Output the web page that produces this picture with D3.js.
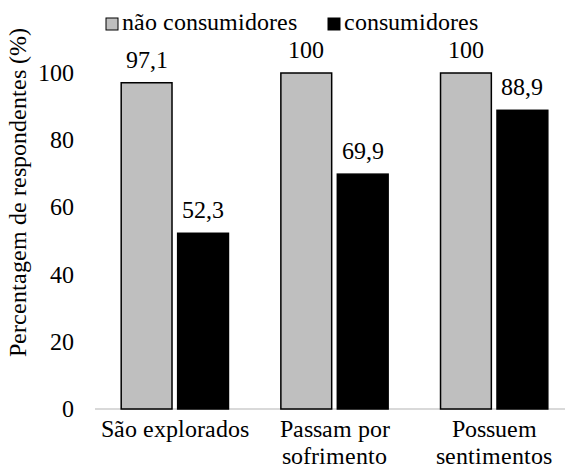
<!DOCTYPE html>
<html>
<head>
<meta charset="utf-8">
<script src="https://cdn.jsdelivr.net/npm/d3@7"></script>
<style>
  @font-face {
    font-family: "ChartSerif";
    src: local("Liberation Serif"), local("LiberationSerif"), local("Times New Roman"), local("Tinos");
  }
  body { margin: 0; }
  svg text { font-family: "ChartSerif", "Liberation Serif", "Times New Roman", Tinos, serif; }
</style>
</head>
<body>
<svg id="chart" width="565" height="475" style="font-family: 'Liberation Serif', 'Times New Roman', serif"></svg>
<script>
// Chart data
const categories = [["São explorados"], ["Passam por", "sofrimento"], ["Possuem", "sentimentos"]];
const seriesNames = ["não consumidores", "consumidores"];
const naoConsumidores = [97.1, 100, 100];
const consumidores = [52.3, 69.9, 88.9];
const valueLabels = [["97,1", "100", "100"], ["52,3", "69,9", "88,9"]];
const yTicks = [0, 20, 40, 60, 80, 100];
const colors = ["#bfbfbf", "#000000"];

const fontSize = 23.7;

const svg = d3.select("#chart");

// Text helper: every label uses the serif face
function label(x, y, txt, anchor) {
  return svg.append("text")
    .attr("x", x)
    .attr("y", y)
    .attr("text-anchor", anchor || "start")
    .style("font-size", fontSize + "px")
    .attr("fill", "#000")
    .text(txt);
}

const catKeys = categories.map(c => c.join(" "));
const x0 = d3.scaleBand().domain(catKeys).range([95, 574]).paddingInner(0).paddingOuter(0);
const x1 = d3.scaleBand().domain(seriesNames).range([0, x0.bandwidth()])
  .paddingInner(0.1).paddingOuter(0.464);
const y = d3.scaleLinear().domain([0, 100]).range([409, 73]);

const seriesValues = [naoConsumidores, consumidores];

// Baseline (category axis)
svg.append("line")
  .attr("x1", 95).attr("x2", 574)
  .attr("y1", y(0)).attr("y2", y(0))
  .attr("stroke", "#d9d9d9").attr("stroke-width", 2);

// Bars and their value labels
seriesNames.forEach((s, si) => {
  const rows = catKeys.map((c, i) => ({ c, v: seriesValues[si][i], label: valueLabels[si][i] }));
  svg.append("g").selectAll("rect")
    .data(rows)
    .join("rect")
    .attr("x", d => x0(d.c) + x1(s))
    .attr("y", d => y(d.v))
    .attr("width", x1.bandwidth())
    .attr("height", d => y(0) - y(d.v))
    .attr("fill", colors[si])
    .attr("stroke", "#000")
    .attr("stroke-width", 1.5);

  rows.forEach(d => {
    label(x0(d.c) + x1(s) + x1.bandwidth() / 2, y(d.v) - 15, d.label, "middle");
  });
});

// Value axis tick labels
const tickFmt = d3.format("d");
yTicks.forEach(t => label(74, y(t) + 8, tickFmt(t), "end"));

// Value axis title
label(0, 0, "Percentagem de respondentes (%)", "middle")
  .attr("transform", "translate(26,192) rotate(-90)");

// Category labels
categories.forEach((lines, i) => {
  const cx = x0(catKeys[i]) + x0.bandwidth() / 2;
  lines.forEach((ln, j) => label(cx, 437 + j * 27, ln, "middle"));
});

// Legend
const legendX = [106, 328];
seriesNames.forEach((s, si) => {
  svg.append("rect")
    .attr("x", legendX[si]).attr("y", 18)
    .attr("width", 12).attr("height", 12)
    .attr("fill", colors[si])
    .attr("stroke", "#000").attr("stroke-width", 1);
  label(legendX[si] + 16, 30, s);
});
</script>
</body>
</html>
